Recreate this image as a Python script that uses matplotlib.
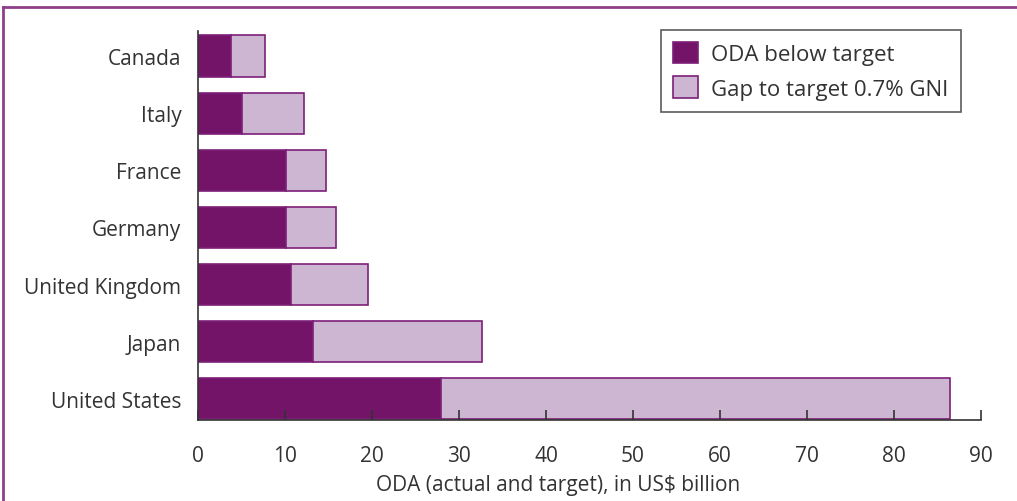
import matplotlib.pyplot as plt

plt.rcParams['font.family'] = ['Open Sans', 'DejaVu Sans']

countries = ['United States', 'Japan', 'United Kingdom', 'Germany', 'France', 'Italy', 'Canada']
oda = [27.9, 13.2, 10.7, 10.1, 10.1, 5.1, 3.8]
total = [86.4, 32.6, 19.5, 15.9, 14.7, 12.2, 7.7]
gap = [t - o for t, o in zip(total, oda)]

dark = '#731469'
light = '#cdb6d2'
edge = '#7d1f78'
txt = '#333333'

fig = plt.figure(figsize=(10.17, 5.02), dpi=100)
ax = fig.add_axes([0.1947, 0.1614, 0.77, 0.775])

y = range(len(countries))
ax.barh(y, oda, height=0.72, color=dark, edgecolor=edge, linewidth=1.2,
        label='ODA below target')
ax.barh(y, gap, left=oda, height=0.72, color=light, edgecolor=edge, linewidth=1.2,
        label='Gap to target 0.7% GNI')

ax.set_xlim(0, 90)
ax.set_ylim(-0.37, 6.44)
ax.set_xticks(range(0, 91, 10))
ax.set_yticks(list(y))
ax.set_yticklabels(countries)
ax.tick_params(axis='y', length=0, pad=12, labelsize=15, labelcolor=txt)
ax.tick_params(axis='x', direction='in', length=7, width=1.2, color=txt,
               labelsize=15, labelcolor=txt, pad=18)
for s in ['top', 'right']:
    ax.spines[s].set_visible(False)
for s in ['left', 'bottom']:
    ax.spines[s].set_color(txt)
    ax.spines[s].set_linewidth(1.2)

ax.set_xlabel('ODA (actual and target), in US$ billion', fontsize=15, color=txt)
ax.xaxis.set_label_coords(0.46, -0.14)

leg = ax.legend(loc='upper right', bbox_to_anchor=(0.974, 1.003), fontsize=16,
                frameon=True, fancybox=False, edgecolor=txt, handlelength=1.1,
                handleheight=1.1, borderpad=0.55, labelspacing=0.5, handletextpad=0.6,
                borderaxespad=0)
leg.get_frame().set_linewidth(1.2)
for t in leg.get_texts():
    t.set_color(txt)

# outer border line on top and left
fig.add_artist(plt.Line2D([0.003, 1.0], [0.984, 0.984], color='#8e3f8a', lw=2,
                          transform=fig.transFigure))
fig.add_artist(plt.Line2D([0.003, 0.003], [0.0, 0.984], color='#8e3f8a', lw=2,
                          transform=fig.transFigure))

fig.savefig('out.png', dpi=100)
